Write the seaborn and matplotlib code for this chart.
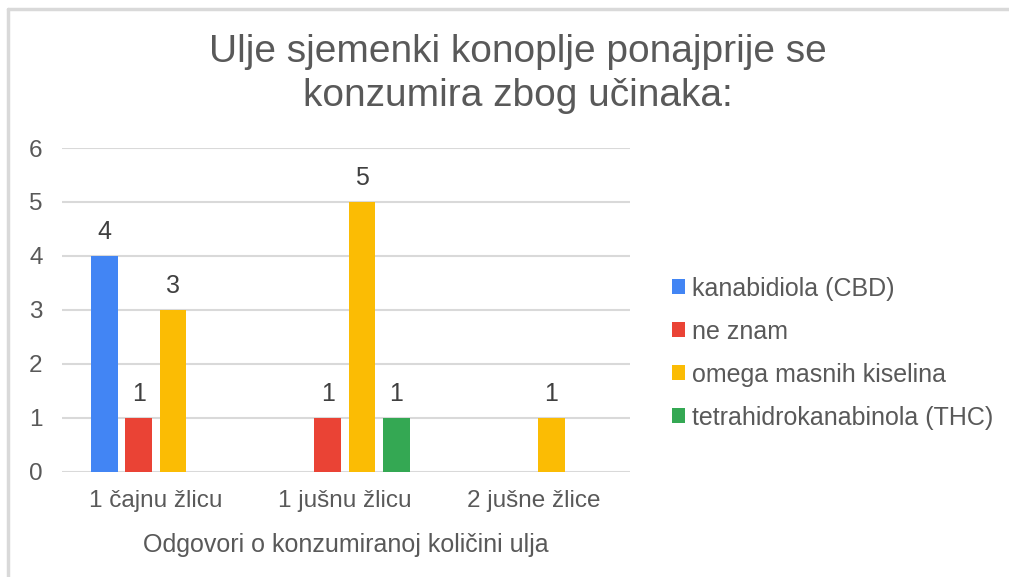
import pandas as pd
import seaborn as sns
import matplotlib.pyplot as plt
from matplotlib.lines import Line2D

# Chart data
categories = ['1 čajnu žlicu', '1 jušnu žlicu', '2 jušne žlice']
series = ['kanabidiola (CBD)', 'ne znam', 'omega masnih kiselina',
          'tetrahidrokanabinola (THC)']
cbd = [4, 0, 0]
ne_znam = [1, 1, 0]
omega = [3, 5, 1]
thc = [0, 1, 0]

colors = ['#4285F4', '#EA4335', '#FBBC04', '#34A853']
text_col = '#595959'

# long-form table for seaborn
rows = []
for name, vals in zip(series, [cbd, ne_znam, omega, thc]):
    for cat, v in zip(categories, vals):
        rows.append({'odgovor': cat, 'serija': name, 'broj': v})
df = pd.DataFrame(rows)

sns.set_style('white')
plt.rcParams['font.family'] = ['Liberation Sans', 'DejaVu Sans']

fig = plt.figure(figsize=(10.09, 5.77), dpi=100)
ax = fig.add_axes([0.0614, 0.182, 0.563, 0.5615])

sns.barplot(data=df, x='odgovor', y='broj', hue='serija',
            order=categories, hue_order=series, palette=colors,
            width=0.726, gap=0.22, linewidth=0, saturation=1,
            ax=ax, legend=True)

# value labels, skip zero bars
for cont in ax.containers:
    labels = ['' if b.get_height() == 0 else f'{b.get_height():.0f}'
              for b in cont]
    ax.bar_label(cont, labels=labels, padding=8.5, fontsize=18,
                 color='#404040')

ax.set_ylim(0, 6)
ax.set_xlim(-0.497, 2.508)
ax.set_yticks(range(7))
ax.grid(axis='y', color='#d9d9d9', linewidth=1.5)
ax.set_axisbelow(True)
sns.despine(ax=ax, left=True, bottom=True)
ax.tick_params(axis='both', length=0, labelsize=17.5, colors=text_col)
ax.tick_params(axis='y', pad=14)
ax.tick_params(axis='x', pad=13)
ax.set_ylabel('')
ax.set_xlabel('Odgovori o konzumiranoj količini ulja', fontsize=18,
              color=text_col, labelpad=15)

# legend on the right
handles, labs = ax.get_legend_handles_labels()
ax.legend(handles, labs, loc='center left',
          bbox_to_anchor=(0.666, 0.388), bbox_transform=fig.transFigure,
          frameon=False, fontsize=18, labelcolor=text_col,
          handlelength=0.52, handleheight=0.52, handletextpad=0.3,
          labelspacing=0.76, borderpad=0, borderaxespad=0)

# title
fig.text(0.513, 0.872, 'Ulje sjemenki konoplje ponajprije se\n'
         'konzumira zbog učinaka:', ha='center', va='center',
         fontsize=28, color=text_col, linespacing=1.27)

# frame lines (top and left)
fig.add_artist(Line2D([0.0084, 1.0], [0.985, 0.985], color='#d9d9d9',
                      linewidth=2.5, transform=fig.transFigure))
fig.add_artist(Line2D([0.0084, 0.0084], [0.0, 0.985], color='#d9d9d9',
                      linewidth=2.5, transform=fig.transFigure))

fig.savefig('out.png', dpi=100)
